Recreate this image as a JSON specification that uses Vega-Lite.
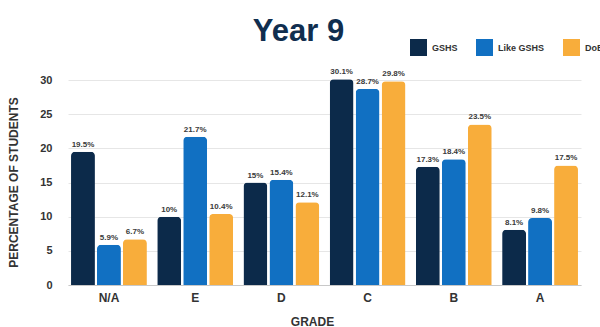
{
  "$schema": "https://vega.github.io/schema/vega-lite/v6.json",
  "width": 513,
  "height": 205,
  "autosize": {"type": "none"},
  "padding": {"left": 68, "top": 80, "right": 19, "bottom": 42},
  "background": "#ffffff",
  "title": {
    "text": "Year 9",
    "font": "Liberation Sans",
    "fontSize": 31,
    "fontWeight": "bold",
    "color": "#102e4f",
    "anchor": "middle",
    "frame": "group",
    "baseline": "alphabetic",
    "dx": -26,
    "dy": 33,
    "offset": 0
  },
  "data": {
    "values": [
      {"grade": "N/A", "group": "GSHS", "pct": 19.5},
      {"grade": "N/A", "group": "Like GSHS", "pct": 5.9},
      {"grade": "N/A", "group": "DoE", "pct": 6.7},
      {"grade": "E", "group": "GSHS", "pct": 10},
      {"grade": "E", "group": "Like GSHS", "pct": 21.7},
      {"grade": "E", "group": "DoE", "pct": 10.4},
      {"grade": "D", "group": "GSHS", "pct": 15},
      {"grade": "D", "group": "Like GSHS", "pct": 15.4},
      {"grade": "D", "group": "DoE", "pct": 12.1},
      {"grade": "C", "group": "GSHS", "pct": 30.1},
      {"grade": "C", "group": "Like GSHS", "pct": 28.7},
      {"grade": "C", "group": "DoE", "pct": 29.8},
      {"grade": "B", "group": "GSHS", "pct": 17.3},
      {"grade": "B", "group": "Like GSHS", "pct": 18.4},
      {"grade": "B", "group": "DoE", "pct": 23.5},
      {"grade": "A", "group": "GSHS", "pct": 8.1},
      {"grade": "A", "group": "Like GSHS", "pct": 9.8},
      {"grade": "A", "group": "DoE", "pct": 17.5}
    ]
  },
  "transform": [
    {"calculate": "format(datum.pct, '.1~f') + '%'", "as": "label"}
  ],
  "encoding": {
    "x": {
      "field": "grade",
      "type": "nominal",
      "sort": ["N/A", "E", "D", "C", "B", "A"],
      "scale": {"paddingInner": 0.12, "paddingOuter": 0.035},
      "axis": {
        "title": "GRADE",
        "titleFont": "Liberation Sans",
        "titleFontSize": 12,
        "titleFontWeight": "bold",
        "titleColor": "#333333",
        "titleX": 244,
        "titleY": 40,
        "titleAlign": "center",
        "titleBaseline": "alphabetic",
        "labelFont": "Liberation Sans",
        "labelFontSize": 12,
        "labelFontWeight": "bold",
        "labelColor": "#333333",
        "labelAngle": 0,
        "labelPadding": 7,
        "ticks": false,
        "domainColor": "#c8c8c8",
        "domainWidth": 1
      }
    },
    "xOffset": {
      "field": "group",
      "type": "nominal",
      "sort": ["GSHS", "Like GSHS", "DoE"],
      "scale": {"paddingInner": 0.08, "paddingOuter": 0}
    },
    "y": {
      "field": "pct",
      "type": "quantitative",
      "scale": {"domain": [0, 30], "nice": false},
      "axis": {
        "title": "PERCENTAGE OF STUDENTS",
        "titleFont": "Liberation Sans",
        "titleFontSize": 12,
        "titleFontWeight": "bold",
        "titleColor": "#333333",
        "titleAngle": 270,
        "titleX": -55,
        "titleY": 102,
        "titleAlign": "center",
        "titleBaseline": "middle",
        "values": [0, 5, 10, 15, 20, 25, 30],
        "labelFont": "Liberation Sans",
        "labelFontSize": 11,
        "labelFontWeight": "bold",
        "labelColor": "#333333",
        "labelPadding": 16,
        "ticks": false,
        "domain": false,
        "gridColor": "#e6e6e6"
      }
    }
  },
  "layer": [
    {
      "mark": {"type": "bar", "cornerRadiusTopLeft": 4, "cornerRadiusTopRight": 4, "clip": false},
      "encoding": {
        "color": {
          "field": "group",
          "type": "nominal",
          "sort": ["GSHS", "Like GSHS", "DoE"],
          "scale": {
            "domain": ["GSHS", "Like GSHS", "DoE"],
            "range": ["#0c2a4a", "#1170c2", "#f8ad3b"]
          },
          "legend": {
            "title": null,
            "orient": "none",
            "direction": "horizontal",
            "columns": 3,
            "legendX": 342,
            "legendY": -41,
            "padding": 0,
            "symbolType": "square",
            "symbolSize": 289,
            "symbolStrokeWidth": 0,
            "labelFont": "Liberation Sans",
            "labelFontSize": 9,
            "labelFontWeight": "bold",
            "labelColor": "#333333",
            "labelOffset": 5,
            "columnPadding": 18
          }
        }
      }
    },
    {
      "mark": {
        "type": "text",
        "baseline": "bottom",
        "dy": -3,
        "font": "Liberation Sans",
        "fontSize": 8,
        "fontWeight": "bold",
        "color": "#3a3a3a"
      },
      "encoding": {
        "text": {"field": "label", "type": "nominal"}
      }
    }
  ],
  "config": {"view": {"stroke": null}}
}
